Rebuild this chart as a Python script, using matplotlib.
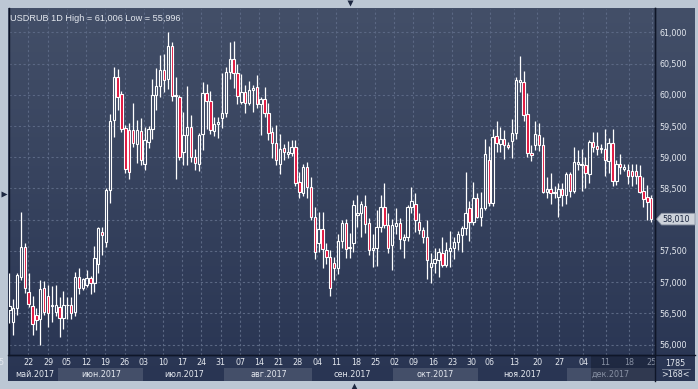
import numpy as np
import matplotlib
matplotlib.use("Agg")
import matplotlib.pyplot as plt
from matplotlib.patches import Polygon, Rectangle

# ---------------- data (USDRUB daily candles) ----------------
opens = [56.55,56.37,56.59,57.09,57.57,56.84,56.62,56.48,56.41,56.91,56.78,56.62,56.52,56.61,56.42,56.63,56.63,56.52,57.09,56.91,
         56.95,57.06,56.99,57.29,57.81,57.65,58.48,59.60,60.29,60.02,59.47,59.44,59.44,59.21,59.42,58.89,59.24,59.45,60.00,60.14,
         60.40,60.25,60.78,59.98,59.97,59.09,59.35,59.49,59.00,58.90,59.37,60.03,59.90,59.42,59.53,59.63,59.71,60.36,60.57,60.35,
         59.88,60.04,59.87,60.08,60.12,59.85,59.93,59.71,59.40,59.23,58.89,59.15,59.06,59.07,59.17,58.61,58.43,58.84,58.53,58.04,
         57.63,57.85,57.52,57.41,57.31,57.22,57.66,57.95,57.54,57.63,58.08,58.11,58.22,57.94,57.51,57.54,57.89,58.21,57.92,57.59,
         57.90,57.95,57.67,57.73,58.20,58.25,57.97,57.83,57.73,57.25,57.30,57.36,57.46,57.28,57.50,57.54,57.65,57.76,57.86,58.19,
         57.97,58.35,58.05,58.19,58.96,58.27,59.34,59.22,59.29,59.20,59.26,59.39,60.21,60.20,59.70,59.07,59.20,59.36,59.19,58.45,
         58.49,58.42,58.37,58.49,58.39,58.74,58.46,58.90,58.87,58.88,58.73,59.24,59.18,59.13,59.13,58.94,59.23,58.62,58.90,58.82,
         58.79,58.78,58.78,58.70,58.46,58.36,58.35]
highs = [57.14,56.73,57.14,58.13,57.63,57.15,56.78,56.59,57.04,57.02,56.96,56.94,56.95,56.77,56.86,56.77,56.77,57.17,57.23,57.07,
         57.19,57.10,57.58,57.89,57.89,58.50,59.70,60.44,60.42,60.06,59.52,59.55,59.87,59.60,59.63,59.48,59.50,60.26,60.43,60.64,
         60.65,61.006,60.84,60.28,59.99,59.72,60.14,59.68,59.14,59.39,60.20,60.18,60.06,59.65,59.64,60.35,60.44,60.84,60.86,60.50,
         60.34,60.15,60.22,60.16,60.32,59.96,60.12,59.87,59.48,59.52,59.38,59.21,59.26,59.28,59.28,58.76,58.90,58.92,58.68,58.20,
         58.12,58.12,57.62,57.52,57.41,57.77,57.99,58.01,57.78,58.31,58.39,58.30,58.40,58.02,57.77,58.16,58.39,58.59,58.10,58.01,
         58.18,58.03,57.77,58.23,58.52,58.42,58.11,57.88,57.99,57.47,57.55,57.55,57.73,57.65,57.82,57.73,57.82,57.90,58.77,58.30,
         58.61,58.42,58.45,59.30,59.18,59.46,59.58,59.48,59.43,59.24,59.61,60.28,60.62,60.38,60.03,59.20,59.58,59.55,59.33,58.68,
         58.75,58.54,58.58,58.58,58.77,58.77,59.17,59.11,59.14,59.00,59.27,59.40,59.40,59.22,59.46,59.31,59.46,58.95,59.06,58.89,
         58.89,58.89,58.89,58.87,58.69,58.55,58.40]
lows = [56.35,56.16,56.48,57.04,56.82,56.61,56.16,56.24,55.996,56.48,56.28,56.36,56.46,56.13,56.25,56.41,56.41,56.46,56.81,56.88,
        56.93,56.81,56.84,57.14,57.43,57.56,58.26,59.33,59.75,59.40,58.75,58.65,59.17,58.91,58.87,58.79,59.15,59.30,59.75,59.97,
        60.04,60.10,59.90,58.66,58.95,58.87,58.88,58.93,58.79,58.78,59.12,59.46,59.37,59.34,59.31,59.47,59.64,60.26,60.11,59.86,
        59.85,59.71,59.83,59.72,59.79,59.35,59.64,59.27,58.99,58.88,58.74,58.95,58.99,59.02,58.54,58.34,58.38,58.34,57.99,57.37,
        57.48,57.23,57.29,56.78,57.04,57.13,57.54,57.38,57.38,57.49,57.89,57.73,57.78,57.44,57.25,57.26,57.81,57.87,57.46,57.20,
        57.77,57.53,57.38,57.66,58.11,57.80,57.77,57.62,57.05,56.99,57.14,57.09,57.25,57.25,57.24,57.37,57.51,57.49,57.76,57.66,
        57.92,58.02,57.90,58.15,58.22,58.22,59.09,59.09,58.98,59.13,58.99,59.30,60.04,59.58,59.01,58.94,59.11,59.10,58.42,58.34,
        58.25,58.34,58.04,58.22,58.25,58.37,58.42,58.80,58.46,58.50,58.59,59.09,59.03,59.07,58.70,58.75,58.54,58.55,58.74,58.78,
        58.57,58.54,58.57,58.42,58.20,57.99,57.97]
closes = [56.62,56.59,57.11,57.57,56.90,56.65,56.33,56.40,56.89,56.52,56.51,56.63,56.63,56.42,56.64,56.64,56.51,57.09,56.91,57.05,
          57.06,56.99,57.39,57.86,57.76,58.48,59.58,60.28,59.97,59.45,58.81,58.77,59.23,59.44,58.95,59.28,59.45,60.00,60.14,60.40,
          60.23,60.78,59.98,60.00,59.01,59.35,59.49,59.00,58.91,59.35,60.03,59.90,59.43,59.53,59.56,59.71,60.36,60.57,60.35,59.98,
          60.04,59.87,60.07,60.11,59.85,59.93,59.71,59.39,59.23,58.95,59.14,59.09,59.08,59.17,58.59,58.45,58.84,58.53,58.04,57.49,
          57.85,57.53,57.40,56.90,57.22,57.66,57.94,57.53,57.56,58.23,58.11,58.25,57.93,57.51,57.54,57.89,58.21,57.91,57.54,57.91,
          57.94,57.69,57.72,58.20,58.30,57.99,57.83,57.73,57.35,57.30,57.37,57.48,57.28,57.51,57.54,57.65,57.77,57.86,58.10,57.97,
          58.35,58.05,58.19,59.06,58.27,59.33,59.23,59.29,59.20,59.17,59.39,60.23,60.23,59.67,59.07,59.03,59.38,59.20,58.45,58.49,
          58.42,58.45,58.49,58.39,58.74,58.46,58.92,58.92,58.89,58.75,59.24,59.17,59.14,59.15,58.95,59.23,58.62,58.90,58.84,58.85,
          58.70,58.70,58.70,58.45,58.33,58.29,58.01]

date_ticks = [4.9, 10.1, 14.9, 19.9, 24.8, 29.9, 34.8, 39.8, 44.7, 49.7, 54.7, 59.7, 64.7, 69.7, 74.6, 79.6,
              84.5, 89.8, 94.6, 99.6, 104.5, 109.6, 114.6, 119.4, 124.3, 130.5, 136.5, 142.2, 148.4, 154.2, 160.3, 166.1]
date_labels = ["22", "29", "05", "12", "19", "26", "03", "10", "17", "24", "31", "07", "14", "21", "28", "04",
               "11", "18", "25", "02", "09", "16", "23", "30", "06", "13", "20", "27", "04", "11", "18", "25"]
month_names = ["май.2017", "июн.2017", "июл.2017", "авг.2017", "сен.2017", "окт.2017", "ноя.2017", "дек.2017"]
month_starts = [-2.3, 12.7, 34.7, 55.6, 78.4, 99.1, 121.1, 144.1]
month_ends = [12.7, 34.7, 55.6, 78.4, 99.1, 121.1, 144.1, 167.0]
price_ticks = [56.0, 56.5, 57.0, 57.5, 58.0, 58.5, 59.0, 59.5, 60.0, 60.5, 61.0]
last_price = 58.010
hi_val, lo_val = 61.006, 55.996

# ---------------- styling ----------------
W, H = 698, 389
FRAME = "#bcc7d4"
TXT = "#e4e8ef"
GRID = "#5b6884"
RED = "#e0133c"
LINE = "#0f1628"
FS = 5.8
plt.rcParams['font.family'] = ['DejaVu Sans']

def fx(px):
    return px / W

def fy(py):
    return 1 - py / H

fig = plt.figure(figsize=(W / 100, H / 100), dpi=100, facecolor=FRAME)

# background gradient panel
bg = fig.add_axes([fx(8), fy(381), fx(695) - fx(8), fy(8) - fy(381)])
top = np.array([67, 79, 104]) / 255
bot = np.array([41, 53, 83]) / 255
t = np.linspace(0, 1, 256)[:, None]
grad = (top[None, :] * (1 - t) + bot[None, :] * t)[:, None, :]
bg.imshow(grad, aspect='auto', extent=[0, 1, 0, 1], interpolation='bilinear')
bg.set_axis_off()

# main price axes
x_lo, x_hi = -0.21, 166.98
y_lo, y_hi = 55.835, 61.381
ax = fig.add_axes([fx(8.5), fy(355), fx(655) - fx(8.5), fy(8.5) - fy(355)])
ax.set_facecolor('none')
ax.set_xlim(x_lo, x_hi)
ax.set_ylim(y_lo, y_hi)

for v in price_ticks:
    ax.axhline(v, color=GRID, lw=0.8, ls=(0, (2, 2.2)), zorder=1)
for v in date_ticks:
    ax.axvline(v, color=GRID, lw=0.8, ls=(0, (2, 2.2)), zorder=1)

o = np.array(opens); h = np.array(highs); l = np.array(lows); c = np.array(closes)
xs = np.arange(len(o))
btop = np.maximum(o, c)
bbot = np.minimum(o, c)
ax.vlines(xs, btop, h, color='white', lw=0.9, zorder=3)
ax.vlines(xs, l, bbot, color='white', lw=0.9, zorder=3)
up = c >= o
face = np.where(up, 'none', RED)
hgt = np.maximum(btop - bbot, 0.004)
ax.bar(xs, hgt, bottom=bbot, width=0.62, color=list(face), edgecolor='white',
       linewidth=0.8, zorder=4)

ax.yaxis.tick_right()
ax.set_yticks(price_ticks)
# the 58,000 label sits under the last-price marker in the reference
ax.set_yticklabels(["" if abs(v - last_price) < 0.1 else f"{v:.3f}".replace('.', ',')
                    for v in price_ticks])
ax.tick_params(axis='y', length=0, pad=3, labelsize=FS, labelcolor=TXT)
ax.set_xticks([])
ax.spines['top'].set_visible(False)
for s in ['left', 'right', 'bottom']:
    ax.spines[s].set_color(LINE)
    ax.spines[s].set_linewidth(1.0)

ax.text(0.003, 0.983, f"USDRUB 1D High = {hi_val:.3f} Low = {lo_val:.3f}".replace('.', ','),
        transform=ax.transAxes, ha='left', va='top', fontsize=6.6, color=TXT,
        family=['Liberation Sans', 'DejaVu Sans'])

# date axes
dax = fig.add_axes([fx(8.5), fy(381), fx(655) - fx(8.5), fy(355) - fy(381)])
dax.set_facecolor('none')
dax.set_xlim(x_lo, x_hi)
dax.set_ylim(381, 355)
dax.set_axis_off()
for k, (a, b) in enumerate(zip(month_starts, month_ends)):
    if k % 2 == 1:
        dax.add_patch(Rectangle((a, 368.3), b - a, 12.4, facecolor='white', alpha=0.13,
                                edgecolor='none', clip_on=False))
    cx = (max(a, x_lo) + b) / 2 if k else 6.6
    col = '#8790a3' if k == 7 else TXT
    dax.text(cx, 374.3, month_names[k], ha='center', va='center', fontsize=FS, color=col)
dim_from = 150.4
for v, lab in zip(date_ticks, date_labels):
    col = '#8790a3' if v > dim_from else TXT
    dax.text(v, 362.8, lab, ha='center', va='center', fontsize=FS, color=col, clip_on=True)
dax.text(-2.1, 362.8, "5", ha='center', va='center', fontsize=FS, color=TXT, clip_on=False)
dax.add_patch(Rectangle((dim_from, 355), x_hi - dim_from, 26, facecolor='#0c1222', alpha=0.35,
                        edgecolor='none'))

# overlay in pixel coordinates for decorations
pax = fig.add_axes([0, 0, 1, 1])
pax.set_xlim(0, W)
pax.set_ylim(H, 0)
pax.set_axis_off()
pax.set_facecolor('none')
pax.plot([655, 655], [8, 381], color=LINE, lw=1.0)
pax.plot([8, 695], [355, 355], color=LINE, lw=1.0)
ly = 8.5 + (y_hi - last_price) / (y_hi - y_lo) * (355 - 8.5)
pax.add_patch(Polygon([[656.5, ly], [661.5, ly - 5.8], [695, ly - 5.8], [695, ly + 5.8], [661.5, ly + 5.8]],
                      closed=True, facecolor='#cdd2da', edgecolor='#8d96a6', lw=0.6))
pax.text(662, ly + 0.3, f"{last_price:.3f}".replace('.', ','), ha='left', va='center',
         fontsize=FS, color='#1d2842')
pax.text(675.5, 363.5, "1785", ha='center', va='center', fontsize=FS, color=TXT)
pax.plot([662, 690], [368.5, 368.5], color='#7d879a', lw=0.6)
pax.text(675.5, 374.5, ">168<", ha='center', va='center', fontsize=FS, color=TXT)
pax.plot([349.5], [3.2], marker='v', ms=5, color='#1c2740', mec='none')
pax.plot([3.8], [193.5], marker='>', ms=5, color='#1c2740', mec='none')
pax.plot([353.5], [386.3], marker='^', ms=5, color='#1c2740', mec='none')

fig.savefig("out.png", dpi=100, facecolor=FRAME)
